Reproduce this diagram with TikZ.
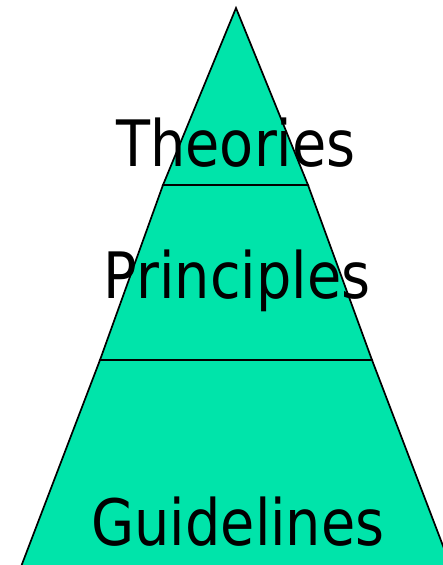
\documentclass[tikz,border=0pt]{standalone}
\usepackage{fontspec}
\setmainfont{DejaVu Sans}[FakeStretch=0.87]
\definecolor{PyramidGreen}{RGB}{0,228,170}

\begin{document}
\begin{tikzpicture}[x=1pt, y=-1pt,
    layer/.style={draw=black, line width=1.7pt, fill=PyramidGreen, line join=miter},
    tier/.style={font=\fontsize{64}{70}\selectfont, text=black, inner sep=0pt, anchor=base}]
                \useasboundingbox (0,0) rectangle (443,565);
                \clip (0,0) rectangle (443,565);
                
                % Bottom tier
                \draw[layer] (100,360) -- (372,360) -- (453,572) -- (19,572) -- cycle;
                
                % Middle tier
                \draw[layer] (163,185) -- (308,185) -- (372,360) -- (100,360) -- cycle;
                
                % Top tier
                \draw[layer] (236,8) -- (308,185) -- (163,185) -- cycle;
                
                % Labels
                \node[tier] (theories) at (236,166) {Theories};
                \node[tier] (principles) at (237,298) {Principles};
                \node[tier] (guidelines) at (238,545) {Guidelines};
            \end{tikzpicture}
\end{document}
